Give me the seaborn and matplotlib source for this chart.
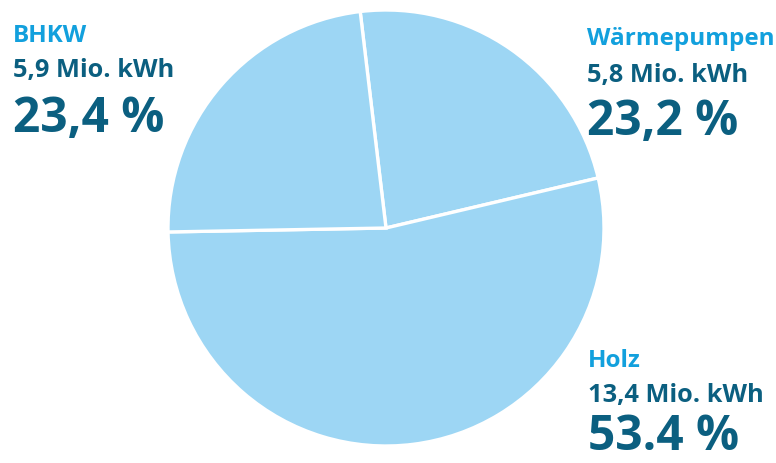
import matplotlib
matplotlib.use("Agg")
import matplotlib.pyplot as plt
import seaborn as sns

# Energy sources and their share of heat generation
categories = ["Wärmepumpen", "Holz", "BHKW"]
amounts = ["5,8", "13,4", "5,9"]          # Mio. kWh
percents = [23.2, 53.4, 23.4]            # share in %
percent_labels = ["23,2 %", "53.4 %", "23,4 %"]

sns.set_theme(style="white")
plt.rcParams["font.family"] = ["Open Sans", "DejaVu Sans"]

W, H = 776, 464
fig = plt.figure(figsize=(W / 100, H / 100), dpi=100)
fig.patch.set_facecolor("white")

cx, cy, r = 386, 229, 218
ax = fig.add_axes([(cx - r) / W, (H - cy - r) / H, 2 * r / W, 2 * r / H])
wedge_color = "#9dd6f4"
ax.pie(percents, startangle=96.8, counterclock=False,
       colors=[wedge_color] * len(percents),
       wedgeprops=dict(edgecolor="white", linewidth=2.4))
ax.set_xlim(-1, 1)
ax.set_ylim(-1, 1)
ax.set_aspect("equal")
ax.axis("off")

name_color = "#12a0dd"
value_color = "#0b5f80"

# label anchors: x (left edge) and baselines for the three lines, in pixels
anchors = {
    "BHKW": (13, [42, 77, 132]),
    "Wärmepumpen": (587, [45, 82, 135]),
    "Holz": (588, [367, 402, 450]),
}

for cat, amt, pl in zip(categories, amounts, percent_labels):
    x, (b1, b2, b3) = anchors[cat]
    fx = x / W
    fig.text(fx, 1 - b1 / H, cat, color=name_color, fontsize=17.5,
             fontweight="bold", va="baseline", ha="left")
    fig.text(fx, 1 - b2 / H, f"{amt} Mio. kWh", color=value_color,
             fontsize=18.3, fontweight="bold", va="baseline", ha="left")
    fig.text(fx, 1 - b3 / H, pl, color=value_color, fontsize=34.5,
             fontweight="bold", va="baseline", ha="left")

fig.savefig("out.png", dpi=100)
